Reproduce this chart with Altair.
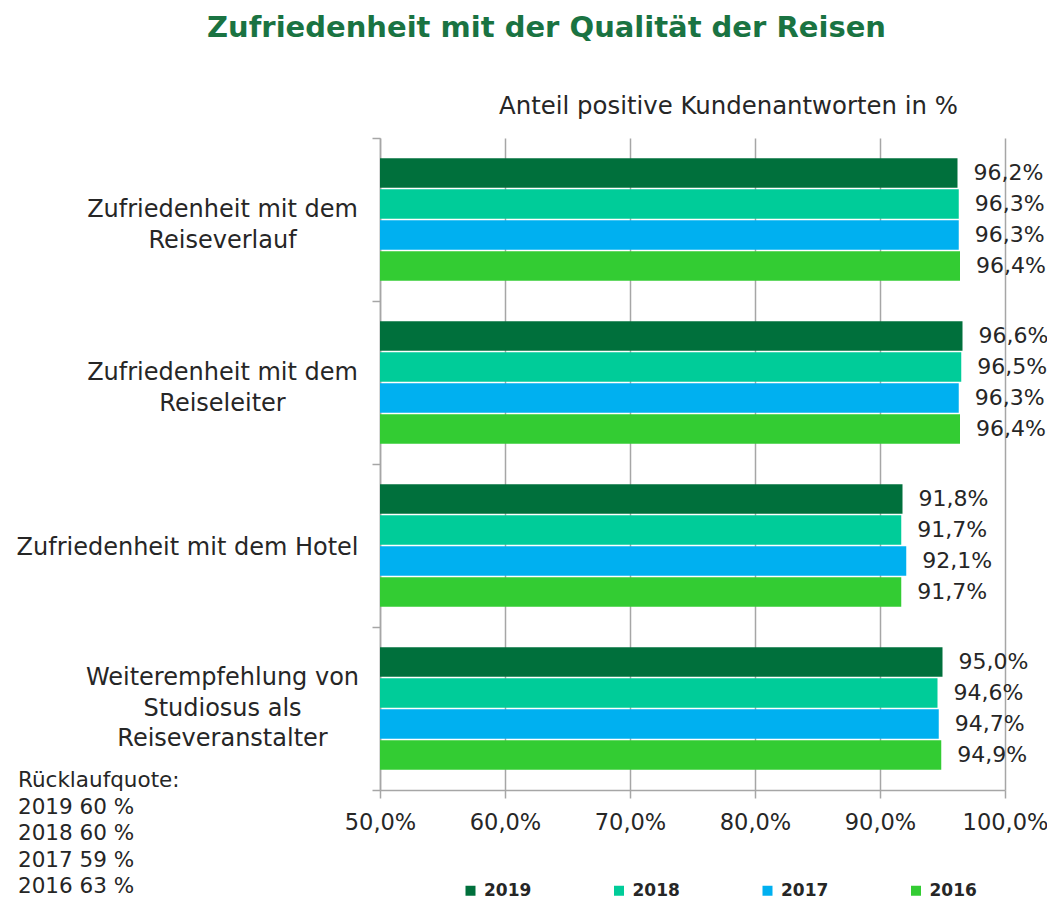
import altair as alt
import pandas as pd

# ---- data ----
categories = [
    "Zufriedenheit mit dem|Reiseverlauf",
    "Zufriedenheit mit dem|Reiseleiter",
    "Zufriedenheit mit dem Hotel",
    "Weiterempfehlung von|Studiosus als|Reiseveranstalter",
]
years = ["2019", "2018", "2017", "2016"]
values_2019 = [96.2, 96.6, 91.8, 95.0]
values_2018 = [96.3, 96.5, 91.7, 94.6]
values_2017 = [96.3, 96.3, 92.1, 94.7]
values_2016 = [96.4, 96.4, 91.7, 94.9]
colors = ["#00703C", "#00CC99", "#00B0F0", "#33CC33"]
x_ticks = [50, 60, 70, 80, 90, 100]
ruecklauf_years = ["2019", "2018", "2017", "2016"]
ruecklauf_rates = [60, 60, 59, 63]

title_text = "Zufriedenheit mit der Qualität der Reisen"
subtitle_text = "Anteil positive Kundenantworten in %"

series = dict(zip(years, [values_2019, values_2018, values_2017, values_2016]))
rows = []
for y in years:
    for c, v in zip(categories, series[y]):
        rows.append({"Kategorie": c, "Jahr": y, "Wert": v,
                     "Label": f"{v:.1f}".replace(".", ",") + "%"})
df = pd.DataFrame(rows)

ruecklauf_lines = ["Rücklaufquote:"] + [f"{a} {b} %" for a, b in zip(ruecklauf_years, ruecklauf_rates)]

FONT = "DejaVu Sans"
GREY = "#a6a6a6"
TXT = "#262626"

NLINES = "length(split(datum.label, '|'))"

y_enc = alt.Y(
    "Kategorie:N", sort=categories,
    scale=alt.Scale(paddingInner=0, paddingOuter=0),
    axis=alt.Axis(
        title=None, tickBand="extent", grid=False,
        labelExpr="split(datum.label, '|')",
        labelAlign={"condition": {"test": NLINES + " == 1", "value": "right"}, "value": "center"},
        labelPadding={"condition": {"test": NLINES + " == 1", "value": 14}, "value": 150},
        labelOffset={"condition": [
            {"test": NLINES + " == 3", "value": -31},
            {"test": NLINES + " == 2", "value": -10},
        ], "value": 2},
        labelFontSize=24, labelLineHeight=30.5, labelColor=TXT, labelFont=FONT,
        labelBaseline="middle", labelLimit=500,
        tickSize=8, tickColor=GREY, tickWidth=1.5, domainColor=GREY, domainWidth=1.5,
    ),
)
yoff = alt.YOffset("Jahr:N", sort=years, scale=alt.Scale(paddingInner=0.05, paddingOuter=0.65))

x_bottom = alt.X(
    "Wert:Q",
    scale=alt.Scale(domain=[50, 100], nice=False, zero=False),
    axis=alt.Axis(
        title=None, values=x_ticks, labelFlush=False,
        labelExpr="replace(format(datum.value, '.1f'), '.', ',') + '%'",
        labelFontSize=22.5, labelColor=TXT, labelFont=FONT, labelPadding=13,
        grid=True, gridColor=GREY, gridWidth=1.5,
        tickSize=8, tickColor=GREY, tickWidth=1.5, domainColor=GREY, domainWidth=1.5,
    ),
)
x_top = alt.X(
    "Wert:Q",
    scale=alt.Scale(domain=[50, 100], nice=False, zero=False),
    axis=alt.Axis(
        orient="top", title=subtitle_text, labels=False, ticks=False, domain=False, grid=False,
        titleFontSize=24.4, titleFontWeight="normal", titleColor=TXT, titleFont=FONT,
        titleX=348, titleY=-25, titleAlign="center", titleBaseline="alphabetic", titleAnchor="start",
    ),
)

bars = alt.Chart(df).mark_bar(clip=True).encode(
    x=x_bottom, y=y_enc, yOffset=yoff,
    color=alt.Color(
        "Jahr:N", sort=years, scale=alt.Scale(domain=years, range=colors),
        legend=alt.Legend(
            orient="none", legendX=82, legendY=744, direction="horizontal", title=None,
            symbolType="square", symbolSize=100, symbolStrokeWidth=0,
            labelFontSize=17, labelFontWeight="bold", labelColor=TXT, labelFont=FONT,
            columnPadding=78.5, labelOffset=5,
        ),
    ),
)

labels = alt.Chart(df).mark_text(
    align="left", baseline="middle", dx=16, fontSize=22, color=TXT, font=FONT
).encode(x=x_top, y=y_enc, yOffset=yoff, text="Label:N")

note = alt.Chart(pd.DataFrame({"n": [0]})).mark_text(
    text=ruecklauf_lines, align="left", baseline="alphabetic", fontSize=21.5,
    lineHeight=26.5, color=TXT, font=FONT,
).encode(x=alt.value(-362), y=alt.value(649))

chart = alt.layer(bars, labels, note).resolve_axis(x="independent").properties(
    width=625, height=652,
    autosize=alt.AutoSizeParams(type="none"),
    padding={"left": 372, "top": 130, "right": 42, "bottom": 109},
    title=alt.TitleParams(
        text=title_text, fontSize=29, font=FONT, fontWeight="bold", color="#1A7342",
        anchor="middle", dx=-146, offset=50,
    ),
).configure_view(stroke=None)

chart.save("out.html", embed_options={"renderer": "svg", "actions": False})
